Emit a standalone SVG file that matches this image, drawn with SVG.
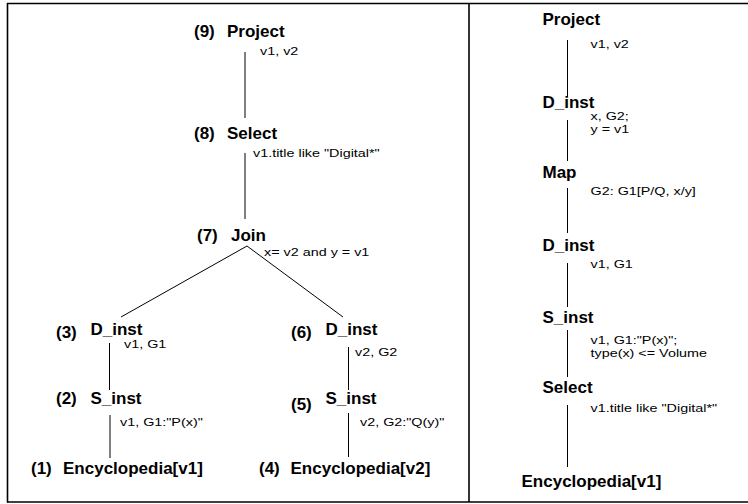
<svg xmlns="http://www.w3.org/2000/svg" width="748" height="504" viewBox="0 0 748 504">
<style>
.b{font-family:"Liberation Sans",Arial,sans-serif;font-size:17px;font-weight:bold;fill:#000}
.s{font-family:"Liberation Sans",Arial,sans-serif;font-size:11.5px;fill:#000}
.e{stroke:#000;stroke-width:1;fill:none}
.f{stroke:#000;stroke-width:1.6;fill:none}
</style>
<rect width="748" height="504" fill="#fff"/>
<g id="frame">
<line class="f" x1="7" y1="3.5" x2="748" y2="3.5"/>
<line class="f" x1="7.5" y1="3" x2="7.5" y2="502.5"/>
<line class="f" x1="7" y1="502" x2="748" y2="502"/>
<line class="f" x1="469" y1="3" x2="469" y2="502"/>
</g>
<g id="connectors">
<line class="e" x1="245" y1="52" x2="245" y2="118"/>
<line class="e" x1="245" y1="153" x2="245" y2="219"/>
<line class="e" x1="247" y1="246" x2="121" y2="317"/>
<line class="e" x1="247" y1="246" x2="343" y2="317"/>
<line class="e" x1="109.5" y1="343" x2="109.5" y2="390"/>
<line class="e" x1="110" y1="415" x2="110" y2="458"/>
<line class="e" x1="348.5" y1="347" x2="348.5" y2="390"/>
<line class="e" x1="348.5" y1="413" x2="348.5" y2="457"/>
<line class="e" x1="567.5" y1="40" x2="567.5" y2="97"/>
<line class="e" x1="567.5" y1="120" x2="567.5" y2="161"/>
<line class="e" x1="567.5" y1="188" x2="567.5" y2="233"/>
<line class="e" x1="567.5" y1="263" x2="567.5" y2="307"/>
<line class="e" x1="567.5" y1="330" x2="567.5" y2="377"/>
<line class="e" x1="567.5" y1="405" x2="567.5" y2="467"/>
</g>
<g id="n9"><text class="b" x="194" y="37">(9)</text><text class="b" x="227" y="37">Project</text><text class="s" transform="translate(260 55) scale(1.25 1)">v1, v2</text></g>
<g id="n8"><text class="b" x="194" y="139">(8)</text><text class="b" x="227" y="139">Select</text><text class="s" transform="translate(253 157) scale(1.25 1)">v1.title like "Digital*"</text></g>
<g id="n7"><text class="b" x="197" y="241">(7)</text><text class="b" x="231" y="241">Join</text><text class="s" transform="translate(264 256) scale(1.25 1)">x= v2 and y = v1</text></g>
<g id="n3"><text class="b" x="56" y="338">(3)</text><text class="b" x="90.5" y="334.5">D_inst</text><text class="s" transform="translate(124 347.5) scale(1.25 1)">v1, G1</text></g>
<g id="n2"><text class="b" x="56" y="404">(2)</text><text class="b" x="90.5" y="403.5">S_inst</text><text class="s" transform="translate(120 426) scale(1.25 1)">v1, G1:"P(x)"</text></g>
<g id="n1"><text class="b" x="31" y="474">(1)</text><text class="b" x="63" y="474">Encyclopedia[v1]</text></g>
<g id="n6"><text class="b" x="291" y="337.5">(6)</text><text class="b" x="325.5" y="335">D_inst</text><text class="s" transform="translate(355 355.5) scale(1.25 1)">v2, G2</text></g>
<g id="n5"><text class="b" x="291" y="410">(5)</text><text class="b" x="325.5" y="404">S_inst</text><text class="s" transform="translate(360 425.5) scale(1.25 1)">v2, G2:"Q(y)"</text></g>
<g id="n4"><text class="b" x="259" y="474">(4)</text><text class="b" x="290.5" y="474">Encyclopedia[v2]</text></g>
<g id="r1"><text class="b" x="542.5" y="25">Project</text><text class="s" transform="translate(590.5 48) scale(1.25 1)">v1, v2</text></g>
<g id="r2"><text class="b" x="542.5" y="108">D_inst</text><text class="s" transform="translate(590.5 119.5) scale(1.25 1)">x, G2;</text><text class="s" transform="translate(590.5 132.5) scale(1.25 1)">y = v1</text></g>
<g id="r3"><text class="b" x="542.5" y="178">Map</text><text class="s" transform="translate(590.5 195) scale(1.25 1)">G2: G1[P/Q, x/y]</text></g>
<g id="r4"><text class="b" x="542.5" y="251">D_inst</text><text class="s" transform="translate(590.5 268) scale(1.25 1)">v1, G1</text></g>
<g id="r5"><text class="b" x="542.5" y="323">S_inst</text><text class="s" transform="translate(590.5 344) scale(1.25 1)">v1, G1:"P(x)";</text><text class="s" transform="translate(590.5 357) scale(1.25 1)">type(x) &lt;= Volume</text></g>
<g id="r6"><text class="b" x="542.5" y="393">Select</text><text class="s" transform="translate(590.5 412) scale(1.25 1)">v1.title like "Digital*"</text></g>
<g id="r7"><text class="b" x="521.5" y="487">Encyclopedia[v1]</text></g>
</svg>
